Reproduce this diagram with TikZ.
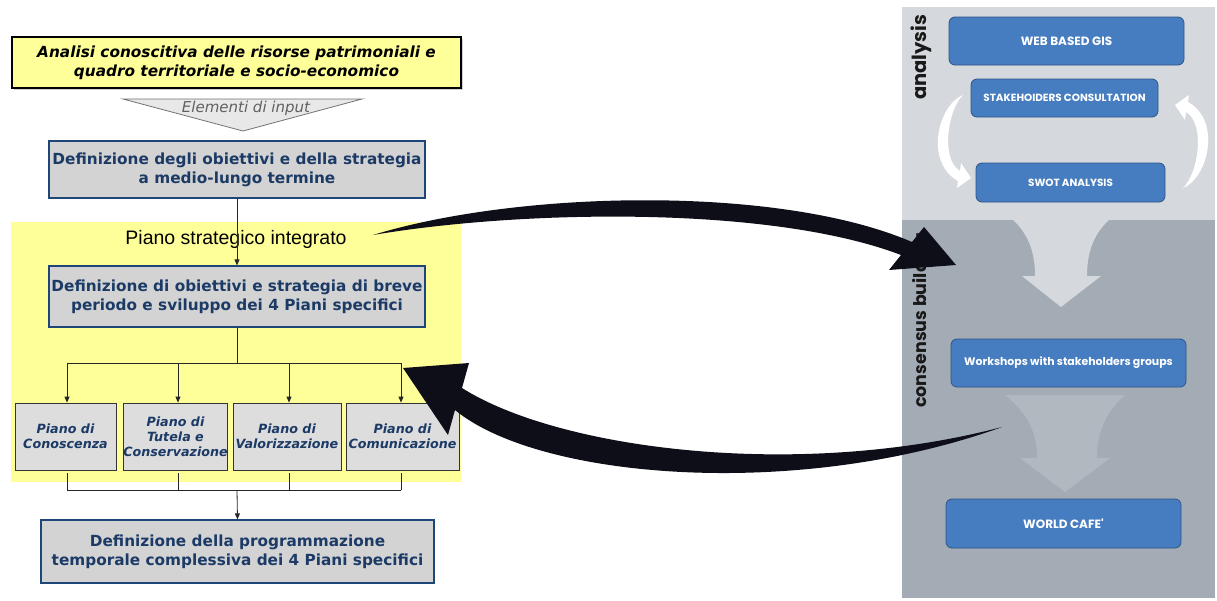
\documentclass[tikz,border=0pt]{standalone}
\usepackage{fontspec}
\setmainfont{DejaVu Sans}
\newfontfamily\arialf{Liberation Sans}
\newfontfamily\gothic{Poppins}
\usetikzlibrary{arrows.meta,shadows}
\definecolor{ylw}{RGB}{255,255,153}
\definecolor{navy}{RGB}{28,58,102}
\definecolor{navyedge}{RGB}{30,70,120}
\definecolor{boxgray}{RGB}{211,211,211}
\definecolor{smallgray}{RGB}{221,221,221}
\definecolor{panelA}{RGB}{213,217,222}
\definecolor{panelB}{RGB}{163,171,180}
\definecolor{funB}{RGB}{176,184,192}
\definecolor{bluefill}{RGB}{70,124,192}
\definecolor{blueedge}{RGB}{45,85,135}
\definecolor{arrowblk}{RGB}{14,14,24}
\tikzset{
  bigbox/.style={draw=navyedge, line width=1.2pt, fill=boxgray, text=navy,
    font=\fontsize{15.3}{19}\selectfont\bfseries, align=center, inner sep=0pt},
  inbox/.style={draw=black, line width=1.1pt, fill=ylw, text=black,
    font=\fontsize{15.3}{19}\selectfont\bfseries\itshape, align=center, inner sep=0pt,
    drop shadow={shadow xshift=2pt, shadow yshift=-2pt, fill=black!35}},
  planbox/.style={draw=black!80, line width=0.8pt, fill=smallgray, text=navy,
    font=\fontsize{12.7}{15}\selectfont\bfseries\itshape, align=center, inner sep=0pt,
    minimum height=67pt},
  bbox/.style={draw=blueedge, line width=0.8pt, fill=bluefill, rounded corners=6pt,
    text=white, font=\gothic\bfseries\fontsize{10.4}{12}\selectfont, inner sep=0pt},
  bigtxt/.style={font=\gothic\bfseries\fontsize{12}{14}\selectfont},
  conn/.style={draw=black!85, line width=0.8pt},
  arr/.style={conn, -{Triangle[length=6pt,width=5pt]}},
  sidelab/.style={rotate=90, anchor=base west, inner sep=0pt, text=black!90},
  warrow/.pic={
    \fill[white] (-3,-42) .. controls (-28,-32) and (-42,25) .. (-8,44)
      -- (-9,51) -- (5,41) -- (-5,26) -- (-6,34)
      .. controls (-26,22) and (-18,-28) .. (-3,-42) -- cycle;
  }
}
\begin{document}
\begin{tikzpicture}[x=1pt,y=-1pt]
\useasboundingbox (0,0) rectangle (1217,600);
\fill[white] (0,0) rectangle (1217,600);

% ---------- left flow chart ----------
\fill[ylw] (11,222) rectangle (461,482);

\node[inbox, minimum width=449pt, minimum height=51pt] (a) at (236.5,62.5)
  {Analisi conoscitiva delle risorse patrimoniali e\\quadro territoriale e socio-economico};

\coordinate (tl) at (123,99);
\coordinate (tr) at (362,99);
\coordinate (tt) at (243,131);
\fill[black!9, draw=black!55, line width=0.8pt] (tl) -- (tr) -- (tt) -- cycle;
\node[text=black!62, font=\fontsize{15}{17}\selectfont\itshape, inner sep=0pt] (inp) at (246,108) {Elementi di input};

\node[bigbox, minimum width=376pt, minimum height=57pt] (b2) at (237,169.5)
  {Definizione degli obiettivi e della strategia\\a medio-lungo termine};

\node[font=\arialf\fontsize{19.5}{22}\selectfont, inner sep=0pt] (pst) at (236,239) {Piano strategico integrato};

\node[bigbox, minimum width=376pt, minimum height=61pt] (b3) at (237,296.5)
  {Definizione di obiettivi e strategia di breve\\periodo e sviluppo dei 4 Piani specifici};

\node[planbox, minimum width=101pt] (p1) at (65.5,436.5) {Piano di\\Conoscenza};
\node[planbox, minimum width=103pt] (p2) at (175.5,436.5) {Piano di\\Tutela e\\Conservazione};
\node[planbox, minimum width=108pt] (p3) at (287,436.5) {Piano di\\Valorizzazione};
\node[planbox, minimum width=113pt] (p4) at (402.5,436.5) {Piano di\\Comunicazione};

\node[bigbox, minimum width=393pt, minimum height=63pt] (b5) at (237.5,551.5)
  {Definizione della programmazione\\temporale complessiva dei 4 Piani specifici};

\draw[arr] (b2.south) -- (b3.north);
\coordinate (split) at (237,363);
\draw[conn] (b3.south) -- (split);
\draw[conn] ([xshift=1.5pt]p1.north |- split) -- ([xshift=-1.5pt]p4.north |- split);
\foreach \p/\dx in {p1/1.5, p2/2.5, p3/2, p4/-1.5} {
  \draw[arr] ([xshift=\dx pt]\p.north |- split) -- ([xshift=\dx pt]\p.north);
}
\coordinate (join) at (237,490);
\foreach \p/\dx in {p1/1.5, p2/2.5, p3/2, p4/-1.5} {
  \draw[conn] ([xshift=\dx pt, yshift=-3pt]\p.south) -- ([xshift=\dx pt]\p.south |- join);
}
\draw[conn] ([xshift=1.5pt]p1.south |- join) -- ([xshift=-1.5pt]p4.south |- join);
\draw[arr] (join) -- (b5.north);

% ---------- right panel ----------
\fill[panelA] (902,7) rectangle (1215,220);
\fill[panelB] (902,220) rectangle (1215,598);
\fill[panelA] (1012,219) .. controls (1030,235) and (1035,255) .. (1035,276)
  -- (1022,276) -- (1061,307) -- (1101,276) -- (1087,276)
  .. controls (1087,255) and (1092,235) .. (1110,219) -- cycle;
\fill[funB] (1005,395) -- (1125,395) .. controls (1103,415) and (1097,435) .. (1097,458)
  -- (1110,458) -- (1065,492) -- (1020,458) -- (1037,458)
  .. controls (1037,435) and (1030,415) .. (1005,395) -- cycle;

\node[bbox, bigtxt, minimum width=235pt, minimum height=48pt] (gis) at (1066.5,41) {WEB BASED GIS};
\node[bbox, minimum width=187pt, minimum height=38pt] (stk) at (1064.5,98) {STAKEHOIDERS CONSULTATION};
\node[bbox, minimum width=189pt, minimum height=39pt] (swot) at (1070.5,182.5) {SWOT ANALYSIS};
\node[bbox, font=\gothic\bfseries\fontsize{10.9}{12}\selectfont, minimum width=235pt, minimum height=48pt] (wrk) at (1068.5,363) {Workshops with stakeholders groups};
\node[bbox, bigtxt, minimum width=235pt, minimum height=49pt] (cafe) at (1063.5,523.5) {WORLD CAFE'};

\pic at (966,137) {warrow};
\pic[rotate=180] at (1180,146) {warrow};

\node[sidelab, font=\gothic\bfseries\fontsize{19.5}{22}\selectfont] (lan) at (926,100) {analysis};
\node[sidelab, font=\gothic\bfseries\fontsize{17.5}{22}\selectfont] (lcb) at (926,408) {consensus building};

% ---------- big black arrows ----------
\fill[arrowblk] (373,235) .. controls (520,190) and (780,185) .. (912,242)
  -- (924,227) -- (956,265) -- (889,270) -- (901,255)
  .. controls (770,205) and (520,210) .. (373,235) -- cycle;
\fill[arrowblk] (1002,427) .. controls (800,480) and (560,450) .. (462,388)
  -- (469,363) -- (403,368) -- (448,435) -- (455,410)
  .. controls (540,480) and (800,500) .. (1002,427) -- cycle;
\end{tikzpicture}
\end{document}
